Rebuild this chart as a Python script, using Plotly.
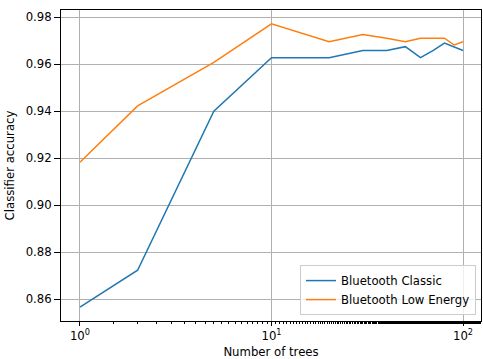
import plotly.graph_objects as go

n_trees = [1, 2, 5, 10, 20, 30, 40, 50, 60, 70, 80, 90, 100]
acc_classic = [0.8566, 0.8723, 0.9400, 0.9627, 0.9627, 0.9658, 0.9658, 0.9674,
               0.9627, 0.9658, 0.9689, 0.9674, 0.9658]
acc_le = [0.9182, 0.9422, 0.9607, 0.9771, 0.9695, 0.9726, 0.9710, 0.9695,
          0.9710, 0.9710, 0.9710, 0.9681, 0.9695]
series_names = ["Bluetooth Classic", "Bluetooth Low Energy"]
x_tickvals = [1, 10, 100]
x_ticktext = ["10<sup>0</sup>", "10<sup>1</sup>", "10<sup>2</sup>"]
y_tickvals = [0.86, 0.88, 0.90, 0.92, 0.94, 0.96, 0.98]

FS = 11.7

fig = go.Figure()
fig.add_trace(go.Scatter(x=n_trees, y=acc_classic, mode="lines", name=series_names[0],
                         line=dict(color="#1f77b4", width=1.5)))
fig.add_trace(go.Scatter(x=n_trees, y=acc_le, mode="lines", name=series_names[1],
                         line=dict(color="#ff7f0e", width=1.5)))

axis_common = dict(showline=True, linecolor="black", linewidth=1, mirror=True,
                   showgrid=True, gridcolor="#b0b0b0", gridwidth=1,
                   ticks="outside", tickcolor="black", zeroline=False,
                   tickfont=dict(size=FS, color="black"))

fig.update_xaxes(type="log", range=[-0.099, 2.094], tickvals=x_tickvals, ticktext=x_ticktext,
                 ticklen=4,
                 title=dict(text="Number of trees", font=dict(size=FS, color="black"), standoff=7),
                 minor=dict(ticks="outside", ticklen=2, tickcolor="black", showgrid=False),
                 **axis_common)
fig.update_yaxes(range=[0.8507, 0.983], tickvals=y_tickvals, tickformat=".2f",
                 ticklen=6,
                 title=dict(text="Classifier accuracy", font=dict(size=FS, color="black"), standoff=8),
                 **axis_common)

fig.update_layout(
    width=483, height=359,
    margin=dict(l=61, r=1, t=10, b=35),
    plot_bgcolor="white", paper_bgcolor="white",
    font=dict(family="DejaVu Sans", size=FS, color="black"),
    legend=dict(x=0.988, y=0.019, xanchor="right", yanchor="bottom",
                bgcolor="rgba(255,255,255,0.8)", bordercolor="#cccccc", borderwidth=1,
                font=dict(size=FS), itemwidth=30, tracegroupgap=0),
)

fig.write_html("out.html")
